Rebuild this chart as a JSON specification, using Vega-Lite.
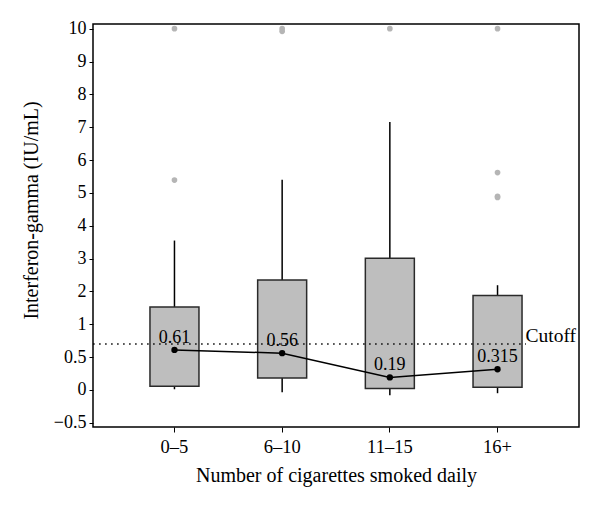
{
  "$schema": "https://vega.github.io/schema/vega-lite/v6.json",
  "width": 486,
  "height": 403,
  "autosize": {"type": "none"},
  "padding": {"left": 93, "top": 24, "right": 21, "bottom": 82},
  "background": "white",
  "config": {
    "view": {"stroke": "black", "strokeWidth": 1.5},
    "font": "Liberation Serif",
    "axis": {"domain": false, "grid": false, "tickColor": "black", "labelColor": "black", "titleColor": "black", "labelFont": "Liberation Serif", "titleFont": "Liberation Serif", "titleFontWeight": "normal", "labelOverlap": false}
  },
  "datasets": {
    "boxes": [
      {"group": "0–5", "wlo": 0.01, "q1": 0.056, "median": 0.61, "q3": 1.53, "whi": 3.55},
      {"group": "6–10", "wlo": -0.035, "q1": 0.18, "median": 0.56, "q3": 2.35, "whi": 5.4},
      {"group": "11–15", "wlo": -0.08, "q1": 0.02, "median": 0.19, "q3": 3.01, "whi": 7.16},
      {"group": "16+", "wlo": -0.05, "q1": 0.04, "median": 0.315, "q3": 1.88, "whi": 2.19}
    ],
    "outliers": [
      {"group": "0–5", "value": 10},
      {"group": "0–5", "value": 5.39},
      {"group": "6–10", "value": 10},
      {"group": "6–10", "value": 9.92},
      {"group": "11–15", "value": 10},
      {"group": "16+", "value": 10},
      {"group": "16+", "value": 5.62},
      {"group": "16+", "value": 4.9},
      {"group": "16+", "value": 4.86}
    ],
    "cutoff": [{"label": "Cutoff", "value": 0.7}]
  },
  "encoding": {
    "x": {
      "field": "group",
      "type": "ordinal",
      "sort": ["0–5", "6–10", "11–15", "16+"],
      "scale": {"domain": ["0–5", "6–10", "11–15", "16+"], "paddingInner": 0.545, "paddingOuter": 0.529},
      "axis": {"title": "Number of cigarettes smoked daily", "labelAngle": 0, "labelFontSize": 18.5, "titleFontSize": 20, "tickSize": 5, "labelPadding": 5, "titlePadding": 10}
    }
  },
  "layer": [
    {
      "data": {"name": "boxes"},
      "mark": {"type": "rule", "color": "black", "strokeWidth": 1.5},
      "encoding": {
        "y": {
          "field": "wlo",
          "type": "quantitative",
          "scale": {"domain": [-0.565, 1, 10.143], "range": [403, 300.3, 0], "zero": false, "nice": false},
          "axis": {
            "title": "Interferon-gamma (IU/mL)",
            "values": [-0.5, 0, 0.5, 1, 2, 3, 4, 5, 6, 7, 8, 9, 10],
            "tickCount": 30,
            "format": ".1~f",
            "labelOverlap": false,
            "labelBound": false,
            "labelFlush": false,
            "labelFontSize": 18,
            "titleFontSize": 20,
            "tickSize": 4,
            "labelPadding": 3,
            "titleX": -52,
            "titleY": 186
          }
        },
        "y2": {"field": "whi"}
      }
    },
    {
      "data": {"name": "boxes"},
      "mark": {"type": "bar", "fill": "#bebebe", "stroke": "#2a2a2a", "strokeWidth": 1.5},
      "encoding": {
        "y": {"field": "q1", "type": "quantitative"},
        "y2": {"field": "q3"}
      }
    },
    {
      "data": {"name": "cutoff"},
      "mark": {"type": "rule", "color": "black", "strokeWidth": 1.3, "strokeDash": [1.5, 4.5]},
      "encoding": {
        "x": {"datum": "0–5", "bandPosition": -1.16},
        "x2": {"datum": "16+", "bandPosition": 1.08},
        "y": {"field": "value", "type": "quantitative"}
      }
    },
    {
      "data": {"name": "cutoff"},
      "mark": {"type": "text", "align": "left", "baseline": "alphabetic", "fontSize": 19.5, "dy": -2, "color": "black"},
      "encoding": {
        "x": {"datum": "16+", "bandPosition": 1.07},
        "y": {"field": "value", "type": "quantitative"},
        "text": {"field": "label"}
      }
    },
    {
      "data": {"name": "boxes"},
      "mark": {"type": "line", "color": "black", "strokeWidth": 1.5},
      "encoding": {
        "y": {"field": "median", "type": "quantitative"}
      }
    },
    {
      "data": {"name": "boxes"},
      "mark": {"type": "point", "filled": true, "color": "black", "size": 40, "opacity": 1},
      "encoding": {
        "y": {"field": "median", "type": "quantitative"}
      }
    },
    {
      "data": {"name": "boxes"},
      "mark": {"type": "text", "baseline": "alphabetic", "fontSize": 18, "dy": -7, "color": "black"},
      "encoding": {
        "y": {"field": "median", "type": "quantitative"},
        "text": {"field": "median", "type": "quantitative", "format": "~g"}
      }
    },
    {
      "data": {"name": "outliers"},
      "mark": {"type": "point", "filled": true, "color": "#b5b5b5", "size": 32, "opacity": 1},
      "encoding": {
        "y": {"field": "value", "type": "quantitative"}
      }
    }
  ]
}
